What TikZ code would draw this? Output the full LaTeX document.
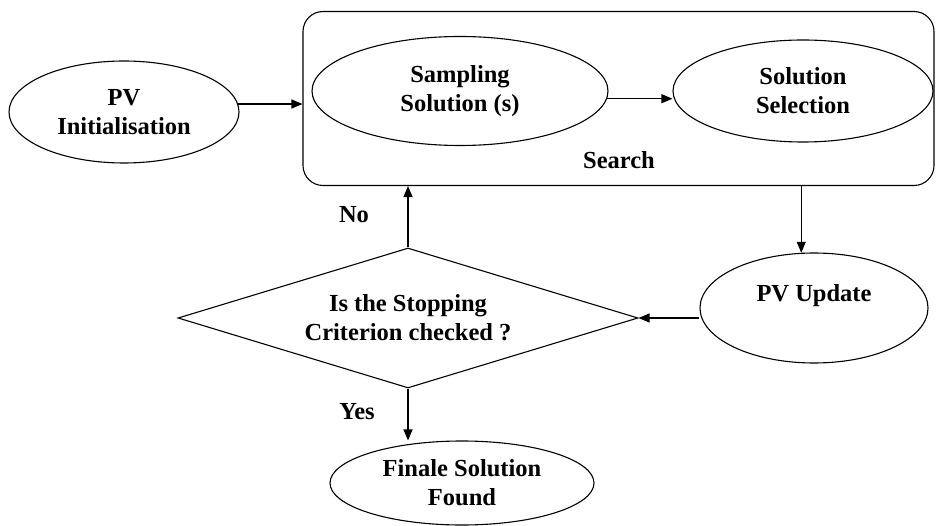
\documentclass[tikz,border=0pt]{standalone}
\usepackage{fontspec}
\setmainfont{Liberation Serif}
\usetikzlibrary{shapes.geometric,arrows.meta}
\begin{document}
\begin{tikzpicture}[x=1pt,y=-1pt,
		font=\fontsize{24.5}{29}\selectfont\bfseries,
		oval/.style={draw,ellipse,line width=1.1pt,inner sep=0pt,align=center},
		arr/.style={-{Triangle[length=11pt,width=9pt]},line width=1.1pt}]
		\useasboundingbox (0,0) rectangle (936,526);
		%search box
		\node[draw,rounded corners=20pt,line width=1.1pt,minimum width=631pt,minimum height=174pt,inner sep=0pt] (box) at (618.5,98.5) {};
		\node (search) at (619,160) {Search};
		%ellipses
		\node[oval,minimum width=230pt,minimum height=102pt] (init) at (124,112) {PV\\Initialisation};
		\node[oval,minimum width=296pt,minimum height=109pt] (samp) at (460,91) {Sampling\\Solution (s)};
		\node[oval,minimum width=260pt,minimum height=102pt] (sel) at (803,91) {Solution\\Selection};
		\node[oval,minimum width=228pt,minimum height=110pt] (upd) at (814,308) {PV Update\\~};
		\node[oval,minimum width=264pt,minimum height=84pt] (fin) at (462,483) {Finale Solution\\Found};
		%test
		\node[draw,diamond,aspect=3.3,line width=1.1pt,inner sep=0pt,align=center,minimum width=460pt,minimum height=140pt] (dia) at (408,318) {Is the Stopping\\Criterion checked ?};
		\node (no) at (354,215) {No};
		\node (yes) at (357,412) {Yes};
		%arrows
		\draw[arr] (init.4) -- (init.4 -| box.west);
		\draw[arr] (samp.-3) -- (samp.-3 -| sel.west);
		\draw[arr] (upd.103 |- box.south) -- (upd.103);
		\draw[arr] (upd.west |- dia.east) -- (dia.east);
		\draw[arr] (dia.north) -- (dia.north |- box.south);
		\draw[arr] (dia.south) -- (dia.south |- fin.north);
	\end{tikzpicture}
\end{document}
